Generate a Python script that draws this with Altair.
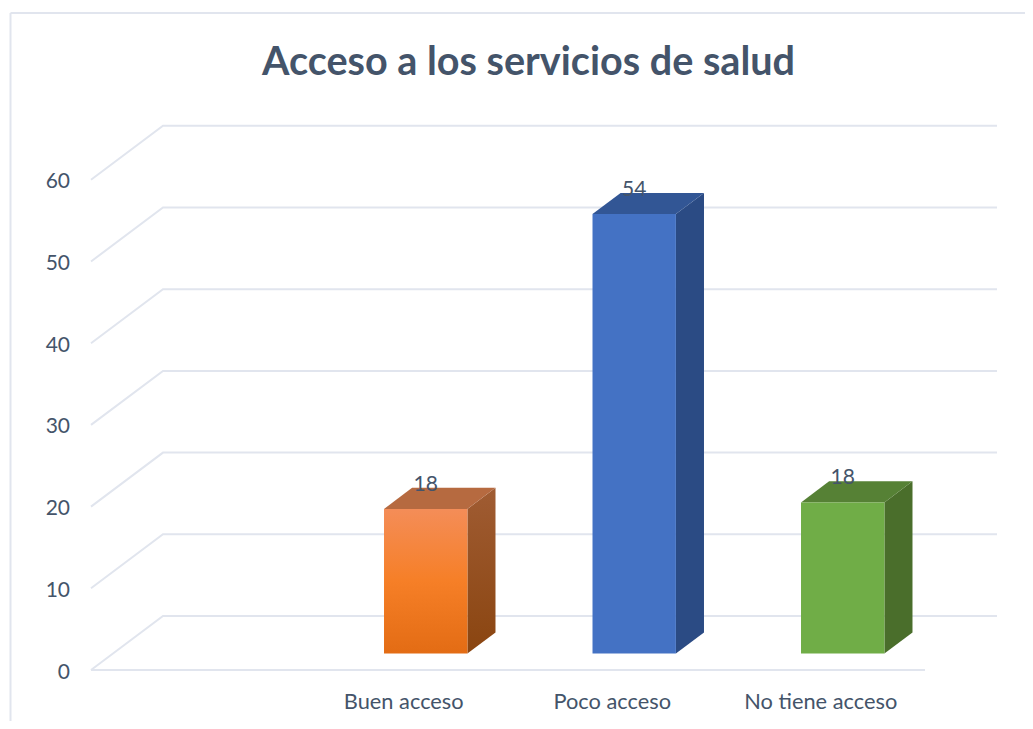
import altair as alt
import pandas as pd

# --- chart values -------------------------------------------------------
categories = ["", "Buen acceso", "Poco acceso", "No tiene acceso"]
bar_slots = [1, 2, 3]
bar_values = [17.7, 53.8, 18.5]
bar_labels = ["18", "54", "18"]
y_ticks = [0, 10, 20, 30, 40, 50, 60]
title_text = "Acceso a los servicios de salud"

# --- styles -------------------------------------------------------------
TEXT = "#44546A"
GRID = "#E1E5EE"
FONT = "Lato"


def grad(stops):
    return alt.Gradient(
        gradient="linear", x1=0, x2=0, y1=0, y2=1,
        stops=[alt.GradientStop(offset=o, color=c) for o, c in stops],
    )


front_fill = [
    grad([(0, "#F48D58"), (0.5, "#F67F27"), (1, "#E36C14")]),
    "#4472C4",
    "#70AD47",
]
side_fill = [
    grad([(0, "#A05C33"), (1, "#8A4510")]),
    "#2B4B84",
    "#4A6E2B",
]
top_fill = ["#B66A40", "#325695", "#568135"]

# --- oblique projection: depth 0 = front edge of floor, 1 = back wall ----
PX_PER_SLOT = 208.5
PX_PER_UNIT = 8.17
DX = 72 / PX_PER_SLOT
DY = 54 / PX_PER_UNIT
BAR_W = 0.4
D0, D1 = 0.305, 0.695


def px(u, d):
    return u + d * DX


def py(v, d):
    return v + d * DY


W, H = 1017, 713
x_scale = alt.Scale(domain=[(8 - 91) / PX_PER_SLOT, (8 + W - 91) / PX_PER_SLOT], nice=False, zero=False)
y_scale = alt.Scale(domain=[(670 - 8 - H) / PX_PER_UNIT, (670 - 8) / PX_PER_UNIT], nice=False, zero=False)
X = lambda f="x", **k: alt.X(f"{f}:Q", scale=x_scale, axis=None, **k)
Y = lambda f="y", **k: alt.Y(f"{f}:Q", scale=y_scale, axis=None, **k)

# --- grid: front edge -> back wall -> along back wall ---------------------
rows = []
wall_right = (997 - 91) / PX_PER_SLOT - DX
for v in y_ticks:
    rows += [
        dict(k=v, o=0, x=px(0, 0), y=py(v, 0)),
        dict(k=v, o=1, x=px(0, 1), y=py(v, 1)),
        dict(k=v, o=2, x=px(wall_right, 1), y=py(v, 1)),
    ]
grid = (
    alt.Chart(pd.DataFrame(rows))
    .mark_line(color=GRID, strokeWidth=2, clip=False)
    .encode(x=X(), y=Y(), detail="k:N", order="o:Q")
)

floor = (
    alt.Chart(pd.DataFrame({"x": [px(0, 0)], "x2": [px(len(categories), 0)], "y": [py(0, 0)]}))
    .mark_rule(color=GRID, strokeWidth=2)
    .encode(x=X(), x2="x2:Q", y=Y())
)

# --- tick labels ----------------------------------------------------------
y_tick_df = pd.DataFrame(
    {"x": [(70 - 91) / PX_PER_SLOT] * len(y_ticks), "y": y_ticks, "t": [str(v) for v in y_ticks]}
)
y_tick_text = (
    alt.Chart(y_tick_df)
    .mark_text(font=FONT, fontSize=21, color=TEXT, align="right", baseline="middle", dy=2.5)
    .encode(x=X(), y=Y(), text="t:N")
)
x_tick_df = pd.DataFrame(
    {
        "x": [i + 0.5 for i in range(len(categories))],
        "y": [(670 - 702) / PX_PER_UNIT] * len(categories),
        "t": categories,
    }
)
x_tick_text = (
    alt.Chart(x_tick_df[x_tick_df.t != ""])
    .mark_text(font=FONT, fontSize=21.8, color=TEXT, align="center", baseline="middle")
    .encode(x=X(), y=Y(), text="t:N")
)

# --- chart frame ------------------------------------------------------------
frame_left = (
    alt.Chart(pd.DataFrame({"a": [0]}))
    .mark_rule(color=GRID, strokeWidth=2)
    .encode(x=alt.value(2.5), y=alt.value(5), y2=alt.value(H))
)
frame_top = (
    alt.Chart(pd.DataFrame({"a": [0]}))
    .mark_rule(color=GRID, strokeWidth=2)
    .encode(x=alt.value(2.5), x2=alt.value(W), y=alt.value(5))
)

# --- 3D columns -----------------------------------------------------------
layers = [grid, frame_left, frame_top, floor, y_tick_text, x_tick_text]
for slot, val, lab, ff, sf, tf in zip(bar_slots, bar_values, bar_labels, front_fill, side_fill, top_fill):
    l = slot + 0.5 - BAR_W / 2
    r = slot + 0.5 + BAR_W / 2
    # side face
    side = pd.DataFrame(
        {
            "x": [px(r, D0), px(r, D1)],
            "y": [py(0, D0), py(0, D1)],
            "y2": [py(val, D0), py(val, D1)],
        }
    )
    layers.append(
        alt.Chart(side).mark_area(color=sf, interpolate="linear", orient="vertical")
        .encode(x=X(), y=Y(), y2="y2:Q")
    )
    # top face
    top = pd.DataFrame(
        {
            "x": [px(l, D0), px(l, D1), px(r, D0), px(r, D1)],
            "y": [py(val, D0)] * 3 + [py(val, D1)],
            "y2": [py(val, D0)] + [py(val, D1)] * 3,
        }
    )
    layers.append(
        alt.Chart(top).mark_area(color=tf, interpolate="linear", orient="vertical")
        .encode(x=X(), y=Y(), y2="y2:Q")
    )
    # front face
    front = pd.DataFrame(
        {"x": [px(l, D0)], "x2": [px(r, D0)], "y": [py(0, D0)], "y2": [py(val, D0)]}
    )
    layers.append(
        alt.Chart(front).mark_rect(color=ff).encode(x=X(), x2="x2:Q", y=Y(), y2="y2:Q")
    )

labels = pd.DataFrame(
    {
        "x": [px(s + 0.5, D0) for s in bar_slots],
        "y": [py(v, D0) for v in bar_values],
        "t": bar_labels,
    }
)
layers.append(
    alt.Chart(labels)
    .mark_text(font=FONT, fontSize=21, color=TEXT, baseline="middle", align="center", dy=-24)
    .encode(x=X(), y=Y(), text="t:N")
)

chart = (
    alt.layer(*layers)
    .properties(
        width=W,
        height=H,
        padding=0,
        autosize=alt.AutoSizeParams(type="none"),
        background="white",
        title=alt.TitleParams(
            text=title_text, font=FONT, fontSize=39.6, fontWeight="bold", color=TEXT,
            anchor="middle", baseline="alphabetic", offset=-67, dx=12, dy=40, frame="group",
        ),
    )
    .configure_view(stroke=None)
)

chart.save("out.html", embed_options={"renderer": "svg", "actions": False})
